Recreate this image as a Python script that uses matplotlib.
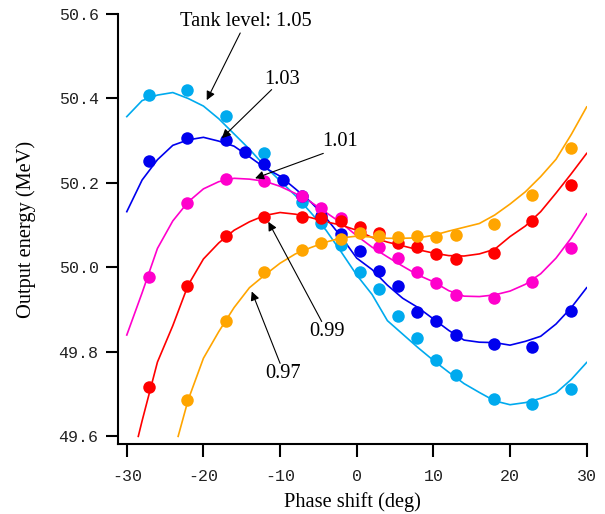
import matplotlib
matplotlib.use("Agg")
import matplotlib.pyplot as plt

# ---------------- data ----------------
levels = ["1.05", "1.03", "1.01", "0.99", "0.97"]
colors = ["#00AAEE", "#0000EE", "#FF00CC", "#FF0000", "#FFA500"]

# measured points (dots)
meas_x_105 = [-27.1, -22.1, -17.1, -12.1, -7.1, -4.6, -2.1, 0.4, 2.9, 5.4, 7.9, 10.4, 12.9, 17.9, 22.9, 27.9]
meas_y_105 = [50.408, 50.419, 50.359, 50.270, 50.156, 50.106, 50.052, 49.990, 49.950, 49.886, 49.834, 49.780, 49.746, 49.688, 49.677, 49.712]

meas_x_103 = [-27.1, -22.1, -17.1, -14.6, -12.1, -9.6, -7.1, -4.6, -2.1, 0.4, 2.9, 5.4, 7.9, 10.4, 12.9, 17.9, 22.9, 27.9]
meas_y_103 = [50.252, 50.306, 50.302, 50.273, 50.245, 50.206, 50.168, 50.122, 50.078, 50.038, 49.992, 49.957, 49.894, 49.872, 49.840, 49.818, 49.812, 49.898]

meas_x_101 = [-27.1, -22.1, -17.1, -12.1, -7.1, -4.6, -2.1, 0.4, 2.9, 5.4, 7.9, 10.4, 12.9, 17.9, 22.9, 27.9]
meas_y_101 = [49.978, 50.153, 50.209, 50.204, 50.169, 50.140, 50.116, 50.085, 50.049, 50.022, 49.988, 49.964, 49.935, 49.927, 49.965, 50.047]

meas_x_099 = [-27.1, -22.1, -17.1, -12.1, -7.1, -4.6, -2.1, 0.4, 2.9, 5.4, 7.9, 10.4, 12.9, 17.9, 22.9, 27.9]
meas_y_099 = [49.716, 49.956, 50.075, 50.120, 50.120, 50.118, 50.110, 50.095, 50.081, 50.059, 50.048, 50.031, 50.020, 50.035, 50.111, 50.195]

meas_x_097 = [-22.1, -17.1, -12.1, -7.1, -4.6, -2.1, 0.4, 2.9, 5.4, 7.9, 10.4, 12.9, 17.9, 22.9, 27.9]
meas_y_097 = [49.686, 49.872, 49.990, 50.041, 50.059, 50.068, 50.081, 50.075, 50.073, 50.075, 50.073, 50.077, 50.102, 50.172, 50.283]

# simulated curves (lines)
sim_x_105 = [-30, -28, -26, -24, -22, -20, -18, -16, -14, -12, -10, -8, -6, -4, -2, 0, 2, 4, 6, 8, 10, 12, 14, 16, 18, 20, 22, 24, 26, 28, 30]
sim_y_105 = [50.357, 50.395, 50.408, 50.414, 50.400, 50.382, 50.352, 50.316, 50.280, 50.240, 50.205, 50.170, 50.130, 50.088, 50.036, 49.982, 49.936, 49.874, 49.842, 49.810, 49.780, 49.752, 49.725, 49.704, 49.684, 49.675, 49.680, 49.690, 49.703, 49.735, 49.775]

sim_x_103 = [-30, -28, -26, -24, -22, -20, -18, -16, -14, -12, -10, -8, -6, -4, -2, 0, 2, 4, 6, 8, 10, 12, 14, 16, 18, 20, 22, 24, 26, 28, 30]
sim_y_103 = [50.132, 50.207, 50.255, 50.289, 50.302, 50.308, 50.299, 50.287, 50.262, 50.236, 50.216, 50.186, 50.155, 50.117, 50.072, 50.022, 49.995, 49.958, 49.927, 49.905, 49.878, 49.851, 49.828, 49.823, 49.822, 49.816, 49.825, 49.837, 49.866, 49.905, 49.952]

sim_x_101 = [-30, -28, -26, -24, -22, -20, -18, -16, -14, -12, -10, -8, -6, -4, -2, 0, 2, 4, 6, 8, 10, 12, 14, 16, 18, 20, 22, 24, 26, 28, 30]
sim_y_101 = [49.840, 49.940, 50.045, 50.110, 50.155, 50.186, 50.203, 50.211, 50.209, 50.204, 50.192, 50.175, 50.155, 50.130, 50.105, 50.075, 50.048, 50.025, 50.003, 49.982, 49.966, 49.945, 49.932, 49.931, 49.935, 49.944, 49.960, 49.985, 50.022, 50.070, 50.127]

sim_x_099 = [-28.5, -28, -26, -24, -22, -20, -18, -16, -14, -12, -10, -8, -6, -4, -2, 0, 2, 4, 6, 8, 10, 12, 14, 16, 18, 20, 22, 24, 26, 28, 30]
sim_y_099 = [49.600, 49.637, 49.776, 49.862, 49.958, 50.020, 50.058, 50.088, 50.108, 50.123, 50.130, 50.126, 50.118, 50.108, 50.100, 50.088, 50.071, 50.060, 50.051, 50.042, 50.034, 50.028, 50.027, 50.032, 50.043, 50.073, 50.098, 50.132, 50.176, 50.222, 50.270]

sim_x_097 = [-23.3, -22, -20, -18, -16, -14, -12, -10, -8, -6, -4, -2, 0, 2, 4, 6, 8, 10, 12, 14, 16, 18, 20, 22, 24, 26, 28, 30]
sim_y_097 = [49.600, 49.686, 49.785, 49.848, 49.905, 49.952, 49.982, 50.010, 50.032, 50.047, 50.060, 50.070, 50.074, 50.072, 50.069, 50.069, 50.070, 50.076, 50.086, 50.095, 50.104, 50.124, 50.150, 50.179, 50.215, 50.256, 50.315, 50.380]

x_ticks = [-30, -20, -10, 0, 10, 20, 30]
y_ticks = [49.6, 49.8, 50.0, 50.2, 50.4, 50.6]

meas_x = [meas_x_105, meas_x_103, meas_x_101, meas_x_099, meas_x_097]
meas_y = [meas_y_105, meas_y_103, meas_y_101, meas_y_099, meas_y_097]
sim_x = [sim_x_105, sim_x_103, sim_x_101, sim_x_099, sim_x_097]
sim_y = [sim_y_105, sim_y_103, sim_y_101, sim_y_099, sim_y_097]

# ---------------- figure ----------------
serif = "Liberation Serif"
mono = "Liberation Mono"
tsize = 14.7

fig = plt.figure(figsize=(6.05, 5.14), dpi=100)
ax = fig.add_axes([0.195, 0.1362, 0.7747, 0.8366])

for sx, sy, c in zip(sim_x, sim_y, colors):
    ax.plot(sx, sy, color=c, lw=1.2, zorder=2)
for mx, my, c in zip(meas_x, meas_y, colors):
    ax.plot(mx, my, linestyle="none", marker="o", ms=9, color=c,
            markeredgewidth=0, zorder=3)

ax.set_xlim(-31.15, 30)
ax.set_ylim(49.582, 50.6)
ax.set_xticks(x_ticks)
ax.set_yticks(y_ticks)
ax.set_xticklabels([f"{v:d}" for v in x_ticks], fontfamily=mono, fontsize=12,
                   color="#222222")
ax.set_yticklabels([f"{v:.1f}" for v in y_ticks], fontfamily=mono, fontsize=12,
                   color="#222222")

for s in ["top", "right"]:
    ax.spines[s].set_visible(False)
for s in ["left", "bottom"]:
    ax.spines[s].set_linewidth(1.5)
ax.tick_params(axis="both", direction="out", length=9, width=1.5, color="black")
ax.tick_params(axis="x", pad=9)
ax.tick_params(axis="y", pad=5)

ax.set_xlabel("Phase shift (deg)", fontfamily=serif, fontsize=tsize, labelpad=6)
ax.set_ylabel("Output energy (MeV)", fontfamily=serif, fontsize=tsize, labelpad=16)

# annotations
arrow = dict(arrowstyle="-|>", color="black", lw=0.8, mutation_scale=13,
             shrinkA=0, shrinkB=0)
ann = [
    ("Tank level: 1.05", (-19.57, 50.396), (-15.2, 50.555), (-14.5, 50.583)),
    ("1.03", (-17.6, 50.306), (-11.1, 50.421), (-9.8, 50.444)),
    ("1.01", (-13.26, 50.211), (-4.36, 50.270), (-2.2, 50.298)),
    ("0.99", (-11.53, 50.108), (-4.57, 49.872), (-3.9, 49.849)),
    ("0.97", (-13.7, 49.943), (-10.0, 49.773), (-9.6, 49.750)),
]
for label, head, tail, tpos in ann:
    ax.annotate("", xy=head, xytext=tail, arrowprops=arrow, zorder=4)
    ax.text(tpos[0], tpos[1], label, fontfamily=serif, fontsize=tsize,
            ha="center", va="center", zorder=5)

fig.savefig("out.png", dpi=100)
